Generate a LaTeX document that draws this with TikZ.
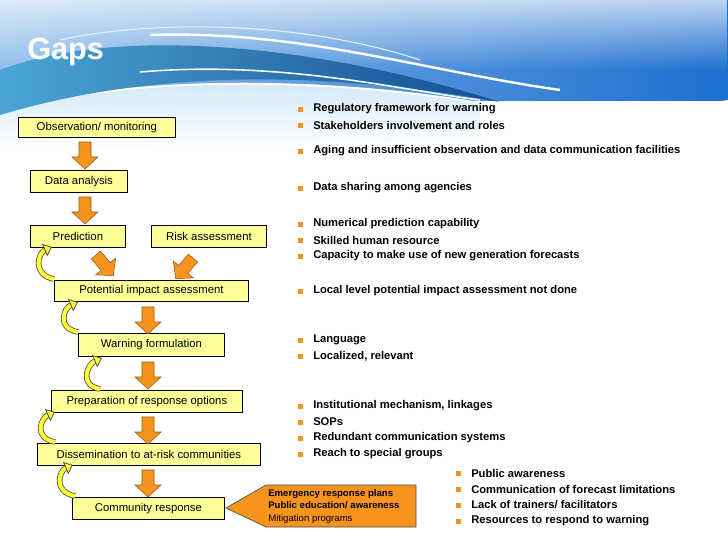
\documentclass[tikz,border=0pt]{standalone}
\usepackage{fontspec}
\setmainfont{Liberation Sans}
\usetikzlibrary{arrows.meta,fadings}
\definecolor{bx}{HTML}{FFFF99}
\definecolor{orng}{HTML}{F7941D}
\definecolor{blu1}{HTML}{1E6FD0}
\definecolor{blu2}{HTML}{BFE0F5}
\definecolor{teal1}{HTML}{1A8CC8}
\definecolor{ylw}{HTML}{FFFF33}
\tikzset{
  box/.style={draw=black, fill=bx, line width=0.6pt, inner sep=0pt, font=\fontsize{8.5}{10}\selectfont, anchor=north west},
  bul/.style={anchor=west, font=\bfseries\fontsize{8.4}{10}\selectfont, inner sep=0pt},
  pics/barrow/.style={code={
    \fill[orng, draw=orng!60!black, line width=0.4pt] (-6,0)--(6,0)--(6,15)--(13,15)--(0,27)--(-13,15)--(-6,15)--cycle;}},
  curlarrow/.style={draw=black!70, line width=0.6pt, double=ylw, double distance=3pt,
    -{Triangle[length=6pt,width=10pt,fill=ylw]}},
}
\newcommand{\bitem}[3]{\fill[orng] (#1-2.5,#2-2.5) rectangle (#1+2.5,#2+2.5); \node[bul] at (#1+13,#2) {#3};}
\newcommand{\curl}[2]{%
  \draw[curlarrow] (#1) .. controls +(-22,-4) and +(-14,6) .. (#2);}
\begin{document}
\begin{tikzpicture}[x=0.75pt,y=-0.75pt]
\useasboundingbox (0,0) rectangle (728,546);
\fill[white] (0,0) rectangle (728,546);
% header
\shade[left color=blu2!70!blu1, right color=blu1] (0,0) rectangle (728,100);
\fill[white, opacity=0.7, path fading=south] (0,0) rectangle (728,70);
\fill[white] (0,140) -- (0,110) .. controls (150,70) and (350,80) .. (480,102) .. controls (600,110) and (700,105) .. (728,100) -- (728,140) -- cycle;
\shade[top color=blu2!80!white, bottom color=white] (0,150) -- (0,112) .. controls (150,72) and (350,82) .. (480,104) -- (480,140) -- cycle;
\shade[left color=teal1!70!blu2, right color=blu1!70!black] (0,115) -- (0,70) .. controls (120,25) and (320,45) .. (500,102) .. controls (320,70) and (150,70) .. (0,115) -- cycle;
\draw[white, line width=1.8pt] (150,35) .. controls (300,30) and (420,70) .. (560,90);
\draw[white!60!blu2, line width=0.8pt] (60,40) .. controls (150,20) and (300,20) .. (420,60);
\draw[white!80!blu2, line width=1.2pt] (140,72) .. controls (280,60) and (400,90) .. (480,100);
\node[anchor=west, text=white, font=\bfseries\fontsize{23}{26}\selectfont, inner sep=0pt] (title) at (27,52) {Gaps};
% boxes
\node[box, minimum width=157*0.75pt, minimum height=20*0.75pt] (obs) at (18,117) {\raisebox{-1.5pt}{Observation/ monitoring}};
\node[box, minimum width=97*0.75pt, minimum height=22*0.75pt] (da) at (30,170) {\raisebox{-1.5pt}{Data analysis}};
\node[box, minimum width=95*0.75pt, minimum height=22*0.75pt] (pr) at (30,225) {\raisebox{-1.5pt}{Prediction}};
\node[box, minimum width=115*0.75pt, minimum height=22*0.75pt] (ra) at (151,225) {\raisebox{-1.5pt}{Risk assessment}};
\node[box, minimum width=194*0.75pt, minimum height=21*0.75pt] (pia) at (54,280) {\raisebox{-1.5pt}{Potential impact assessment}};
\node[box, minimum width=146*0.75pt, minimum height=23*0.75pt] (wf) at (78,333) {\raisebox{-1.5pt}{Warning formulation}};
\node[box, minimum width=191*0.75pt, minimum height=22*0.75pt] (pro) at (51,390) {\raisebox{-1.5pt}{Preparation of response options}};
\node[box, minimum width=223*0.75pt, minimum height=22*0.75pt] (dis) at (37,443) {\raisebox{-1.5pt}{Dissemination to at-risk communities}};
\node[box, minimum width=152*0.75pt, minimum height=22*0.75pt] (cr) at (72,497) {\raisebox{-1.5pt}{Community response}};
% callout
\fill[orng, draw=black!70, line width=0.5pt] (226,508) -- (266,485) -- (416,485) -- (416,527) -- (266,527) -- cycle;
\node[anchor=north west, inner sep=0pt, align=left, font=\fontsize{7.2}{9.5}\selectfont] (cal) at (268,489) {\textbf{Emergency response plans}\\\textbf{Public education/ awareness}\\Mitigation programs};
% block arrows
\pic at (85,142) {barrow};
\pic at (85,197) {barrow};
\pic[rotate=40] at (96,255) {barrow};
\pic[rotate=-40] at (193,258) {barrow};
\pic at (148,307) {barrow};
\pic at (148,362) {barrow};
\pic at (148,417) {barrow};
\pic at (148,470) {barrow};
% curled arrows
\curl{54,279}{52,247};
\curl{78,332}{78,302};
\curl{100,389}{102,358};
\curl{55,442}{55,412};
\curl{75,496}{73,465};
% bullets
\bitem{300}{109}{Regulatory framework for warning}
\bitem{300}{125}{Stakeholders involvement and roles}
\bitem{300}{151}{Aging and insufficient observation and data communication facilities}
\bitem{300}{188}{Data sharing among agencies}
\bitem{300}{224}{Numerical prediction capability}
\bitem{300}{240}{Skilled human resource}
\bitem{300}{256}{Capacity to make use of new generation forecasts}
\bitem{300}{291}{Local level potential impact assessment not done}
\bitem{300}{340}{Language}
\bitem{300}{356}{Localized, relevant}
\bitem{300}{406}{Institutional mechanism, linkages}
\bitem{300}{422}{SOPs}
\bitem{300}{438}{Redundant communication systems}
\bitem{300}{454}{Reach to special groups}
\bitem{458}{473}{Public awareness}
\bitem{458}{489}{Communication of forecast limitations}
\bitem{458}{505}{Lack of trainers/ facilitators}
\bitem{458}{521}{Resources to respond to warning}
\end{tikzpicture}
\end{document}
